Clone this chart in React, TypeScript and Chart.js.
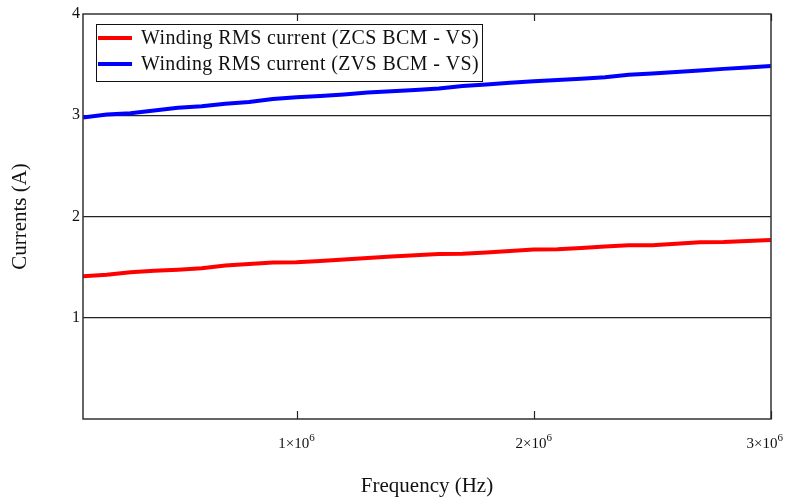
import React, { useEffect, useRef } from "react";
import { Chart, registerables } from "chart.js";

Chart.register(...registerables);

const frequencies = [
  1e5, 2e5, 3e5, 4e5, 5e5, 6e5, 7e5, 8e5, 9e5, 1e6,
  1.1e6, 1.2e6, 1.3e6, 1.4e6, 1.5e6, 1.6e6, 1.7e6, 1.8e6, 1.9e6, 2e6,
  2.1e6, 2.2e6, 2.3e6, 2.4e6, 2.5e6, 2.6e6, 2.7e6, 2.8e6, 2.9e6, 3e6,
];

const zcsCurrent = [
  1.41, 1.425, 1.45, 1.465, 1.475, 1.49, 1.515, 1.53, 1.545, 1.547,
  1.56, 1.575, 1.59, 1.605, 1.617, 1.63, 1.632, 1.645, 1.66, 1.675,
  1.677, 1.69, 1.703, 1.715, 1.717, 1.73, 1.745, 1.747, 1.757, 1.767,
];

const zvsCurrent = [
  2.977, 3.007, 3.02, 3.048, 3.075, 3.09, 3.113, 3.13, 3.16, 3.178,
  3.19, 3.205, 3.225, 3.238, 3.25, 3.265, 3.29, 3.303, 3.32, 3.335,
  3.348, 3.36, 3.375, 3.4, 3.413, 3.428, 3.443, 3.458, 3.472, 3.487,
];

const seriesLabels = [
  "Winding RMS current (ZCS BCM - VS)",
  "Winding RMS current (ZVS BCM - VS)",
];
const xTickValues = [1e6, 2e6, 3e6];
const xTickMantissas = ["1", "2", "3"];
const xTickExponent = "6";
const yTickValues = [0, 1, 2, 3, 4];

const SERIF = "'Liberation Serif', 'Times New Roman', serif";

const overlayPlugin = {
  id: "overlay",
  afterDraw(chart: any) {
    const { ctx, chartArea } = chart;
    const xs = chart.scales.x;
    const { left, right, top, bottom } = chartArea;
    ctx.save();
    // plot frame
    ctx.strokeStyle = "#333";
    ctx.lineWidth = 1.5;
    ctx.strokeRect(left, top, right - left, bottom - top);
    // tick marks (inward, top & bottom)
    ctx.lineWidth = 1.2;
    ctx.strokeStyle = "#222";
    xTickValues.forEach((v) => {
      const px = Math.round(xs.getPixelForValue(v)) + 0.5;
      ctx.beginPath();
      ctx.moveTo(px, bottom);
      ctx.lineTo(px, bottom - 8);
      ctx.moveTo(px, top);
      ctx.lineTo(px, top + 7);
      ctx.stroke();
    });
    // x tick labels with superscript
    ctx.fillStyle = "#111";
    ctx.textBaseline = "alphabetic";
    ctx.textAlign = "left";
    xTickValues.forEach((v, i) => {
      const px = xs.getPixelForValue(v);
      const base = xTickMantissas[i] + "\u00d710";
      ctx.font = `15px ${SERIF}`;
      const wb = ctx.measureText(base).width;
      ctx.font = `11px ${SERIF}`;
      const we = ctx.measureText(xTickExponent).width;
      let x0 = px - (wb + we) / 2;
      if (x0 + wb + we > chart.width - 12) x0 = chart.width - 12 - wb - we;
      ctx.font = `15px ${SERIF}`;
      ctx.fillText(base, x0, bottom + 29);
      ctx.font = `11px ${SERIF}`;
      ctx.fillText(xTickExponent, x0 + wb, bottom + 22);
    });
    // legend
    const bx = 96, by = 24, bw = 386, bh = 57;
    ctx.fillStyle = "#fff";
    ctx.fillRect(bx, by, bw, bh);
    ctx.strokeStyle = "#111";
    ctx.lineWidth = 1;
    ctx.strokeRect(bx + 0.5, by + 0.5, bw, bh);
    const rowsY = [38, 64];
    chart.data.datasets.forEach((ds: any, i: number) => {
      const y = rowsY[i];
      ctx.strokeStyle = ds.borderColor;
      ctx.lineWidth = 4;
      ctx.beginPath();
      ctx.moveTo(98, y);
      ctx.lineTo(132, y);
      ctx.stroke();
      ctx.fillStyle = "#111";
      ctx.font = `20px ${SERIF}`;
      (ctx as any).letterSpacing = "0.4px";
      ctx.textBaseline = "middle";
      ctx.fillText(ds.label, 141, y + 1, 338);
      (ctx as any).letterSpacing = "0px";
    });
    ctx.restore();
  },
};

export default function App() {
  const ref = useRef<HTMLCanvasElement | null>(null);
  useEffect(() => {
    if (!ref.current) return;
    const chart = new Chart(ref.current, {
      type: "line",
      data: {
        datasets: [
          {
            label: seriesLabels[0],
            data: frequencies.map((f, i) => ({ x: f, y: zcsCurrent[i] })),
            borderColor: "#ff0000",
            borderWidth: 4,
            pointRadius: 0,
            tension: 0,
            fill: false,
          },
          {
            label: seriesLabels[1],
            data: frequencies.map((f, i) => ({ x: f, y: zvsCurrent[i] })),
            borderColor: "#0000ff",
            borderWidth: 4,
            pointRadius: 0,
            tension: 0,
            fill: false,
          },
        ],
      },
      options: {
        responsive: false,
        animation: false,
        layout: { padding: { top: 14, right: 24, left: 0, bottom: 0 } },
        plugins: { legend: { display: false }, tooltip: { enabled: false } },
        scales: {
          x: {
            type: "linear",
            min: 1e5,
            max: 3e6,
            afterBuildTicks: (s: any) => {
              s.ticks = xTickValues.map((v) => ({ value: v }));
            },
            afterFit: (s: any) => {
              s.height = 80;
            },
            ticks: { display: false },
            grid: { display: false },
            border: { display: false },
            title: {
              display: true,
              text: "Frequency (Hz)",
              color: "#111",
              font: { family: SERIF, size: 21 },
              padding: { top: 0, bottom: 0 },
            },
          },
          y: {
            type: "linear",
            min: 0,
            max: 4,
            afterBuildTicks: (s: any) => {
              s.ticks = yTickValues.map((v) => ({ value: v }));
            },
            afterFit: (s: any) => {
              s.width = 83;
            },
            ticks: {
              color: "#111",
              padding: 3,
              font: { family: SERIF, size: 16 },
              callback: (v: any) => (v === 0 ? "" : String(v)),
            },
            grid: {
              color: (c: any) =>
                c.tick && (c.tick.value === 0 || c.tick.value === 4) ? "rgba(0,0,0,0)" : "#222",
              lineWidth: 1.2,
              drawTicks: false,
            },
            border: { display: false },
            title: {
              display: true,
              text: "Currents (A)",
              color: "#111",
              font: { family: SERIF, size: 21 },
              padding: { top: 8, bottom: 0 },
            },
          },
        },
      },
      plugins: [overlayPlugin],
    } as any);
    return () => chart.destroy();
  }, []);
  return (
    <div style={{ position: "absolute", left: 0, top: 0, width: 795, height: 499, background: "#fff" }}>
      <canvas ref={ref} width={795} height={499} style={{ display: "block" }} />
    </div>
  );
}
